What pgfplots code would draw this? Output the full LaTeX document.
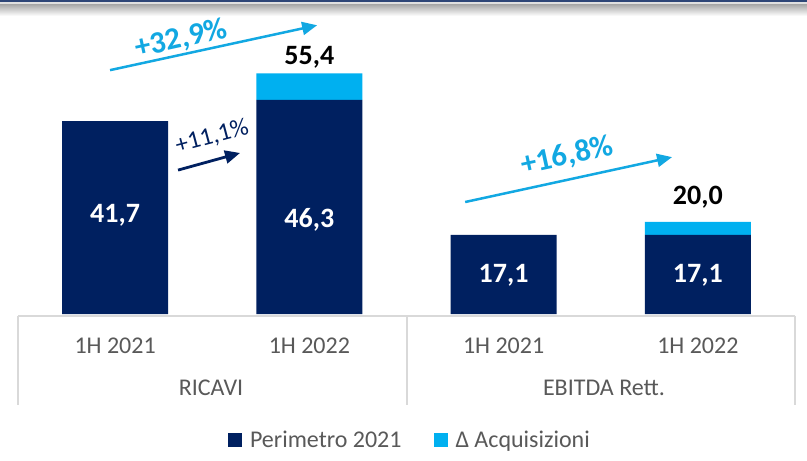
\documentclass[border=0pt]{standalone}
\usepackage{fontspec}
\setmainfont{Carlito}
\usepackage{pgfplots}
\pgfplotsset{compat=1.18}
\usetikzlibrary{arrows.meta}
\definecolor{navy}{HTML}{002060}
\definecolor{lblue}{HTML}{00B0F0}
\definecolor{ablue}{HTML}{12A8E2}
\definecolor{tgrey}{HTML}{595959}
\definecolor{lgrey}{HTML}{D9D9D9}
\definecolor{topbar}{HTML}{2E4677}
\begin{document}
\begin{tikzpicture}[x=1pt,y=1pt]
\useasboundingbox (0,0) rectangle (807,461);
\fill[white] (0,0) rectangle (807,461);
\shade[top color=black!35, bottom color=white] (0,445) rectangle (807,457);
\fill[black!12] (0,457) rectangle (807,458.5);
\fill[topbar] (0,458.5) rectangle (807,461);
% category box
\draw[lgrey, line width=1.5pt] (18,145) -- (795,145);
\draw[lgrey, line width=1.5pt] (18,145) -- (18,56);
\draw[lgrey, line width=1.5pt] (407,145) -- (407,56);
\draw[lgrey, line width=1.5pt] (795,145) -- (795,56);
\begin{axis}[
  at={(18pt,147pt)}, anchor=south west, scale only axis,
  width=777pt, height=298pt,
  xmin=-0.5, xmax=3.5, ymin=0, ymax=64.4,
  ybar stacked, bar width=106pt,
  axis line style={draw=none},
  ytick=\empty,
  xtick={0,1,2,3},
  xticklabels={1H 2021,1H 2022,1H 2021,1H 2022},
  major tick length=0pt,
  xticklabel style={font=\fontsize{24}{28}\selectfont, text=tgrey, anchor=base, yshift=-39pt},
  clip=false,
  legend image code/.code={\path[#1] (0pt,-7pt) rectangle (14pt,7pt); \path (20pt,0pt);},
  legend style={at={(0.5045,-0.423)}, anchor=center, draw=none, fill=none,
    font=\fontsize{24}{28}\selectfont, text=tgrey,
    legend columns=2,
    /tikz/every even column/.append style={column sep=30pt}},
]
\addplot[fill=navy, draw=none] coordinates {(0,41.7) (1,46.3) (2,17.1) (3,17.1)};
\addlegendentry{Perimetro 2021}
\addplot[fill=lblue, draw=none] coordinates {(0,0) (1,5.7) (2,0) (3,2.8)};
\addlegendentry{Δ Acquisizioni}
% label anchor points
\coordinate (l1) at (axis cs:0,21.4);
\coordinate (l2) at (axis cs:1,20.3);
\coordinate (l3) at (axis cs:2,8.4);
\coordinate (l4) at (axis cs:3,8.4);
\coordinate (t2) at (axis cs:1,55.5);
\coordinate (t4) at (axis cs:3,25.3);
% growth arrows
\draw[ablue, line width=2.5pt, -{Triangle[length=15pt,width=13pt]}] (axis cs:-0.026,52.7) -- (axis cs:1.040,62.4);
\node[text=ablue, rotate=12.3, font=\fontsize{31}{34}\selectfont\bfseries] at (axis cs:0.34,59.4) {+32,9\%};
\draw[navy, line width=2.8pt, -{Triangle[length=15pt,width=13pt]}] (axis cs:0.324,31.1) -- (axis cs:0.643,34.8);
\node[text=navy, rotate=15, font=\fontsize{25}{28}\selectfont, inner sep=1pt] at (axis cs:0.499,38.3) {+11,1\%};
\draw[ablue, line width=2.5pt, -{Triangle[length=15pt,width=13pt]}] (axis cs:1.802,24.2) -- (axis cs:2.867,33.9);
\node[text=ablue, rotate=12.3, font=\fontsize{31}{34}\selectfont\bfseries] at (axis cs:2.327,34.1) {+16,8\%};
\end{axis}
\node[text=white, font=\fontsize{28}{32}\selectfont\bfseries] at (l1) {41,7};
\node[text=white, font=\fontsize{28}{32}\selectfont\bfseries] at (l2) {46,3};
\node[text=white, font=\fontsize{28}{32}\selectfont\bfseries] at (l3) {17,1};
\node[text=white, font=\fontsize{28}{32}\selectfont\bfseries] at (l4) {17,1};
\node[text=black, font=\fontsize{28}{32}\selectfont\bfseries] at (t2) {55,4};
\node[text=black, font=\fontsize{28}{32}\selectfont\bfseries] at (t4) {20,0};
\node[anchor=base, text=tgrey, font=\fontsize{24}{28}\selectfont] at (211,65) {RICAVI};
\node[anchor=base, text=tgrey, font=\fontsize{24}{28}\selectfont] at (604,65) {EBITDA Rett.};
\end{tikzpicture}
\end{document}
